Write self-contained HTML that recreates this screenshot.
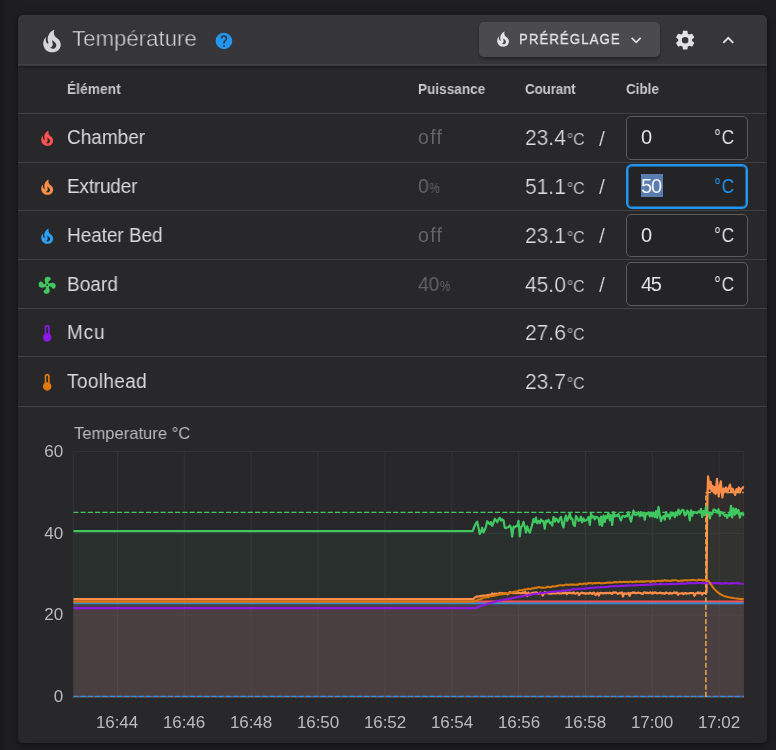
<!DOCTYPE html>
<html><head><meta charset="utf-8"><title>Temperature</title>
<style>
html,body{margin:0;padding:0;}
body{width:776px;height:750px;overflow:hidden;position:relative;background:#1e1e20;font-family:"Liberation Sans",sans-serif;}
.edgeL{position:absolute;left:0;top:0;width:5px;height:750px;background:linear-gradient(90deg,#18181a,#1e1e20);}
.card{position:absolute;left:18px;top:15px;width:749px;height:728px;background:#28282b;border-radius:5px;box-shadow:0 2px 4px rgba(0,0,0,0.3),0 0 8px 1px rgba(0,0,0,0.13);}
.hdr{position:absolute;left:18px;top:15px;width:749px;height:49px;background:#35353a;border-radius:5px 5px 0 0;border-bottom:1px solid #434347;box-shadow:0 1px 0 #37373a,0 3px 3px rgba(0,0,0,0.25);}
.t{position:absolute;white-space:nowrap;will-change:transform;}
.ic{position:absolute;display:block;}
.sep{position:absolute;left:18px;width:749px;height:1px;background:#404043;}
.btn{position:absolute;left:478.6px;top:22.1px;width:181.4px;height:34.5px;background:#4b4b4f;border-radius:5px;box-shadow:0 2px 3px rgba(0,0,0,0.3);}
.inp{position:absolute;left:626.2px;width:121.6px;height:43.6px;box-sizing:border-box;border:1.1px solid #5c5c5f;border-radius:5px;background:#242426;}
.inp.foc{border:2px solid #2196f3;left:626.3px;height:44.6px;border-radius:6px;box-shadow:inset 0 0 0 1px rgba(33,150,243,0.5);}
.sel{position:absolute;left:641.0px;width:22.1px;height:23.2px;background:#5a7db0;}
.deg{font-size:16.5px;letter-spacing:0px;margin-left:1px;}
.chart{position:absolute;left:0;top:0;}
.thin2{-webkit-text-stroke:0.45px #35353a;}
.thin{-webkit-text-stroke:0.22px #28282b;}
.fat{-webkit-text-stroke:0.3px #e6e6e6;}
</style></head><body>
<div class="edgeL"></div>
<div class="card"></div>
<div class="hdr"></div>
<svg class="chart" width="776" height="750" viewBox="0 0 776 750">
<defs><clipPath id="cp"><rect x="73.3" y="450.5" width="671.0" height="246.5"/></clipPath></defs>
<line x1="73.3" x2="743.7" y1="696.9" y2="696.9" stroke="#343437" stroke-width="1"/>
<line x1="73.3" x2="743.7" y1="615.1" y2="615.1" stroke="#343437" stroke-width="1"/>
<line x1="73.3" x2="743.7" y1="533.3" y2="533.3" stroke="#343437" stroke-width="1"/>
<line x1="73.3" x2="743.7" y1="451.5" y2="451.5" stroke="#343437" stroke-width="1"/>
<line x1="73.3" x2="73.3" y1="451.5" y2="696.9" stroke="#343437" stroke-width="1"/>
<line x1="117.5" x2="117.5" y1="451.5" y2="696.9" stroke="#343437" stroke-width="1"/>
<line x1="184.3" x2="184.3" y1="451.5" y2="696.9" stroke="#343437" stroke-width="1"/>
<line x1="251.2" x2="251.2" y1="451.5" y2="696.9" stroke="#343437" stroke-width="1"/>
<line x1="318.0" x2="318.0" y1="451.5" y2="696.9" stroke="#343437" stroke-width="1"/>
<line x1="384.9" x2="384.9" y1="451.5" y2="696.9" stroke="#343437" stroke-width="1"/>
<line x1="451.8" x2="451.8" y1="451.5" y2="696.9" stroke="#343437" stroke-width="1"/>
<line x1="518.6" x2="518.6" y1="451.5" y2="696.9" stroke="#343437" stroke-width="1"/>
<line x1="585.5" x2="585.5" y1="451.5" y2="696.9" stroke="#343437" stroke-width="1"/>
<line x1="652.3" x2="652.3" y1="451.5" y2="696.9" stroke="#343437" stroke-width="1"/>
<line x1="719.2" x2="719.2" y1="451.5" y2="696.9" stroke="#343437" stroke-width="1"/>
<line x1="743.7" x2="743.7" y1="451.5" y2="696.9" stroke="#343437" stroke-width="1"/>
<line x1="72.5" x2="743.7" y1="697.4" y2="697.4" stroke="#4c4c50" stroke-width="1"/>
<g clip-path="url(#cp)" fill="none" stroke-linejoin="round">
<path d="M73.3 531.1 L472.7 531.1 L473.5 529.0 L474.8 525.5 L476.0 523.4 L477.2 521.7 L478.5 527.8 L479.8 534.0 L481.0 532.0 L482.2 527.7 L483.5 532.5 L484.8 529.8 L486.0 526.6 L487.2 521.2 L488.5 522.7 L489.8 524.2 L491.0 522.1 L492.2 525.8 L493.5 522.7 L494.8 518.9 L496.0 520.2 L497.2 522.3 L498.5 519.4 L499.8 517.8 L501.0 520.7 L502.2 519.3 L503.5 520.3 L504.8 527.8 L506.0 528.2 L507.2 527.4 L508.5 527.1 L509.8 525.5 L511.0 527.8 L512.2 536.7 L513.5 526.7 L514.8 527.3 L516.0 526.0 L517.2 526.2 L518.5 520.9 L519.8 536.4 L521.0 526.7 L522.2 526.3 L523.5 521.9 L524.8 527.0 L526.0 532.5 L527.2 526.3 L528.5 530.5 L529.8 532.7 L531.0 528.7 L532.2 524.9 L533.5 519.1 L534.8 522.0 L536.0 517.5 L537.2 523.2 L538.5 520.9 L539.8 523.2 L541.0 519.5 L542.2 521.2 L543.5 521.2 L544.8 528.7 L546.0 520.5 L547.2 521.8 L548.5 519.7 L549.8 523.1 L551.0 522.4 L552.2 525.7 L553.5 517.0 L554.8 521.6 L556.0 518.5 L557.2 520.1 L558.5 522.1 L559.8 518.5 L561.0 516.8 L562.2 523.8 L563.5 527.5 L564.8 519.3 L566.0 515.6 L567.2 520.8 L568.5 518.0 L569.8 513.6 L571.0 518.7 L572.2 518.6 L573.5 524.7 L574.8 526.1 L576.0 516.1 L577.2 518.0 L578.5 520.8 L579.8 520.4 L581.0 516.7 L582.2 522.5 L583.5 518.5 L584.8 520.8 L586.0 520.5 L587.2 519.7 L588.5 517.0 L589.8 524.9 L591.0 513.7 L592.2 517.4 L593.5 516.2 L594.8 519.3 L596.0 516.9 L597.2 517.0 L598.5 518.2 L599.8 524.8 L601.0 516.6 L602.2 525.8 L603.5 515.5 L604.8 522.0 L606.0 515.9 L607.2 518.0 L608.5 513.1 L609.8 520.3 L611.0 515.2 L612.2 525.0 L613.5 512.2 L614.8 516.5 L616.0 515.2 L617.2 516.1 L618.5 514.2 L619.8 517.7 L621.0 520.5 L622.2 516.5 L623.5 515.8 L624.8 516.9 L626.0 515.7 L627.2 516.3 L628.5 512.2 L629.8 517.4 L631.0 521.6 L632.2 515.9 L633.5 510.6 L634.8 514.6 L636.0 515.1 L637.2 514.3 L638.5 512.2 L639.8 516.4 L641.0 512.0 L642.2 515.7 L643.5 512.9 L644.8 519.7 L646.0 513.1 L647.2 514.0 L648.5 512.3 L649.8 516.4 L651.0 512.8 L652.2 516.4 L653.5 512.6 L654.8 517.1 L656.0 511.1 L657.2 517.9 L658.5 507.0 L659.8 515.3 L661.0 521.1 L662.2 517.6 L663.5 515.9 L664.8 519.7 L666.0 512.2 L667.2 516.3 L668.5 514.5 L669.8 518.8 L671.0 512.7 L672.2 515.5 L673.5 513.1 L674.8 517.2 L676.0 512.2 L677.2 515.4 L678.5 509.5 L679.8 514.3 L681.0 511.4 L682.2 509.8 L683.5 510.3 L684.8 515.4 L686.0 514.6 L687.2 510.6 L688.5 512.2 L689.8 520.3 L691.0 510.3 L692.2 515.6 L693.5 511.8 L694.8 512.7 L696.0 512.3 L697.2 513.2 L698.5 511.4 L699.8 512.5 L701.0 508.9 L702.2 517.0 L703.5 511.1 L704.8 515.1 L706.0 506.7 L707.2 513.2 L708.5 512.1 L709.8 518.4 L711.0 512.8 L712.2 514.1 L713.5 509.7 L714.8 509.7 L716.0 510.8 L717.2 512.7 L718.5 509.3 L719.8 515.9 L721.0 512.0 L722.2 512.7 L723.5 514.1 L724.8 515.9 L726.0 514.6 L727.2 517.8 L728.5 514.4 L729.8 515.8 L731.0 505.9 L732.2 517.5 L733.5 508.4 L734.8 514.7 L736.0 508.8 L737.2 513.4 L738.5 510.0 L739.8 517.6 L741.0 513.1 L742.2 513.7 L743.5 515.1 L743.7 512.9 L743.7 696.9 L73.3 696.9 Z" fill="#40c860" fill-opacity="0.05" stroke="none"/>
<path d="M73.3 601.6 L743.7 601.6 L743.7 696.9 L73.3 696.9 Z" fill="#a06d93" fill-opacity="0.2" stroke="none"/>
<path d="M73.3 599.1 L473.5 599.1 L474.5 597.7 L475.6 597.2 L476.7 596.4 L477.8 596.6 L478.9 596.3 L480.0 596.5 L481.1 595.8 L482.2 595.8 L483.3 595.5 L484.4 595.6 L485.5 595.7 L486.6 595.6 L487.7 595.1 L488.8 594.8 L489.9 595.1 L491.0 595.0 L492.1 593.4 L493.2 594.3 L494.3 593.7 L495.4 593.8 L496.5 593.6 L497.6 593.8 L498.7 593.7 L499.8 592.9 L500.9 594.2 L502.0 593.1 L503.1 593.6 L504.2 593.3 L505.3 593.3 L506.4 593.4 L507.5 594.3 L508.6 593.7 L509.7 592.0 L510.8 592.8 L511.9 592.5 L513.0 593.1 L514.1 593.0 L515.2 592.7 L516.3 593.2 L517.4 592.6 L518.5 593.0 L519.6 593.0 L520.7 593.1 L521.8 593.1 L522.9 592.3 L524.0 593.3 L525.1 591.9 L526.2 593.2 L527.3 596.0 L528.4 592.5 L529.5 595.1 L530.6 594.3 L531.7 592.9 L532.8 593.1 L533.9 592.6 L535.0 592.7 L536.1 592.3 L537.2 593.0 L538.3 593.8 L539.4 593.7 L540.5 592.4 L541.6 593.1 L542.7 595.6 L543.8 593.7 L544.9 591.9 L546.0 593.1 L547.1 592.9 L548.2 593.2 L549.3 593.6 L550.4 593.6 L551.5 593.6 L552.6 593.2 L553.7 593.3 L554.8 593.5 L555.9 593.3 L557.0 593.1 L558.1 592.7 L559.2 593.5 L560.3 593.3 L561.4 593.5 L562.5 593.1 L563.6 592.9 L564.7 593.1 L565.8 592.5 L566.9 594.0 L568.0 592.9 L569.1 592.9 L570.2 592.7 L571.3 593.3 L572.4 593.2 L573.5 592.3 L574.6 593.7 L575.7 593.5 L576.8 592.9 L577.9 592.9 L579.0 595.1 L580.1 593.4 L581.2 592.9 L582.3 592.7 L583.4 593.3 L584.5 593.2 L585.6 593.8 L586.7 593.3 L587.8 593.3 L588.9 593.6 L590.0 592.7 L591.1 593.2 L592.2 594.0 L593.3 592.6 L594.4 592.9 L595.5 595.1 L596.6 593.9 L597.7 592.7 L598.8 595.5 L599.9 593.1 L601.0 592.9 L602.1 593.2 L603.2 593.4 L604.3 593.1 L605.4 592.9 L606.5 593.2 L607.6 592.8 L608.7 593.2 L609.8 592.6 L610.9 593.2 L612.0 593.9 L613.1 592.4 L614.2 592.7 L615.3 592.4 L616.4 592.6 L617.5 593.9 L618.6 593.6 L619.7 592.8 L620.8 593.1 L621.9 592.3 L623.0 596.5 L624.1 593.4 L625.2 593.6 L626.3 593.5 L627.4 593.7 L628.5 592.8 L629.6 595.9 L630.7 593.0 L631.8 593.1 L632.9 592.3 L634.0 592.9 L635.1 592.6 L636.2 593.3 L637.3 593.0 L638.4 592.5 L639.5 593.0 L640.6 593.0 L641.7 593.7 L642.8 594.0 L643.9 592.3 L645.0 592.3 L646.1 593.2 L647.2 592.6 L648.3 593.2 L649.4 592.7 L650.5 592.4 L651.6 593.6 L652.7 592.5 L653.8 593.3 L654.9 592.3 L656.0 592.9 L657.1 593.3 L658.2 593.2 L659.3 593.0 L660.4 592.5 L661.5 593.4 L662.6 593.1 L663.7 593.4 L664.8 593.8 L665.9 592.4 L667.0 593.0 L668.1 593.3 L669.2 593.8 L670.3 592.6 L671.4 593.6 L672.5 593.4 L673.6 592.8 L674.7 592.4 L675.8 593.2 L676.9 592.5 L678.0 594.7 L679.1 593.5 L680.2 593.5 L681.3 593.5 L682.4 592.9 L683.5 594.1 L684.6 593.3 L685.7 593.0 L686.8 593.7 L687.9 593.5 L689.0 593.4 L690.1 593.1 L691.2 593.0 L692.3 593.0 L693.4 593.1 L694.5 595.9 L695.6 593.6 L696.7 593.3 L697.8 592.4 L698.9 593.5 L700.0 592.6 L701.1 593.0 L702.2 594.5 L703.3 592.9 L704.4 593.0 L706.5 592.6 L707.1 516.9 L707.6 490.4 L708.1 476.4 L709.6 488.7 L710.6 481.8 L711.6 490.8 L712.6 485.9 L713.6 492.4 L714.6 487.1 L715.6 494.0 L717.0 478.9 L718.0 490.4 L718.8 496.5 L719.8 486.3 L720.8 481.4 L721.6 491.2 L722.4 497.3 L723.6 488.3 L724.8 491.6 L726.1 487.5 L727.4 492.4 L728.6 488.3 L730.0 484.6 L731.2 491.2 L732.6 488.7 L733.8 492.0 L735.2 494.9 L736.4 489.1 L737.6 491.2 L738.8 487.5 L740.0 492.4 L741.2 488.7 L742.4 488.3 L743.7 486.3 L743.7 696.9 L73.3 696.9 Z" fill="#ff8e4b" fill-opacity="0.05" stroke="none"/>
<path d="M73.3 512.4 H743.7" stroke="#40c860" stroke-width="1.4" stroke-dasharray="5.1 2.17"/>
<path d="M73.3 696.5 H743.7" stroke="#ff5252" stroke-opacity="0.4" stroke-width="1.4" stroke-dasharray="5.1 2.17" stroke-dashoffset="3.6"/>
<path d="M73.3 696.5 H743.7" stroke="#2196f3" stroke-width="1.5" stroke-dasharray="5.1 2.17"/>
<path d="M73.3 601.7 L743.7 601.7" stroke="#ff5252" stroke-width="2.2"/>
<path d="M705.9 492.4 H743.7" stroke="#e8ac4c" stroke-width="1.5" stroke-dasharray="5.1 2.17"/>
<path d="M73.3 599.1 L473.5 599.1 L474.5 597.7 L475.6 597.2 L476.7 596.4 L477.8 596.6 L478.9 596.3 L480.0 596.5 L481.1 595.8 L482.2 595.8 L483.3 595.5 L484.4 595.6 L485.5 595.7 L486.6 595.6 L487.7 595.1 L488.8 594.8 L489.9 595.1 L491.0 595.0 L492.1 593.4 L493.2 594.3 L494.3 593.7 L495.4 593.8 L496.5 593.6 L497.6 593.8 L498.7 593.7 L499.8 592.9 L500.9 594.2 L502.0 593.1 L503.1 593.6 L504.2 593.3 L505.3 593.3 L506.4 593.4 L507.5 594.3 L508.6 593.7 L509.7 592.0 L510.8 592.8 L511.9 592.5 L513.0 593.1 L514.1 593.0 L515.2 592.7 L516.3 593.2 L517.4 592.6 L518.5 593.0 L519.6 593.0 L520.7 593.1 L521.8 593.1 L522.9 592.3 L524.0 593.3 L525.1 591.9 L526.2 593.2 L527.3 596.0 L528.4 592.5 L529.5 595.1 L530.6 594.3 L531.7 592.9 L532.8 593.1 L533.9 592.6 L535.0 592.7 L536.1 592.3 L537.2 593.0 L538.3 593.8 L539.4 593.7 L540.5 592.4 L541.6 593.1 L542.7 595.6 L543.8 593.7 L544.9 591.9 L546.0 593.1 L547.1 592.9 L548.2 593.2 L549.3 593.6 L550.4 593.6 L551.5 593.6 L552.6 593.2 L553.7 593.3 L554.8 593.5 L555.9 593.3 L557.0 593.1 L558.1 592.7 L559.2 593.5 L560.3 593.3 L561.4 593.5 L562.5 593.1 L563.6 592.9 L564.7 593.1 L565.8 592.5 L566.9 594.0 L568.0 592.9 L569.1 592.9 L570.2 592.7 L571.3 593.3 L572.4 593.2 L573.5 592.3 L574.6 593.7 L575.7 593.5 L576.8 592.9 L577.9 592.9 L579.0 595.1 L580.1 593.4 L581.2 592.9 L582.3 592.7 L583.4 593.3 L584.5 593.2 L585.6 593.8 L586.7 593.3 L587.8 593.3 L588.9 593.6 L590.0 592.7 L591.1 593.2 L592.2 594.0 L593.3 592.6 L594.4 592.9 L595.5 595.1 L596.6 593.9 L597.7 592.7 L598.8 595.5 L599.9 593.1 L601.0 592.9 L602.1 593.2 L603.2 593.4 L604.3 593.1 L605.4 592.9 L606.5 593.2 L607.6 592.8 L608.7 593.2 L609.8 592.6 L610.9 593.2 L612.0 593.9 L613.1 592.4 L614.2 592.7 L615.3 592.4 L616.4 592.6 L617.5 593.9 L618.6 593.6 L619.7 592.8 L620.8 593.1 L621.9 592.3 L623.0 596.5 L624.1 593.4 L625.2 593.6 L626.3 593.5 L627.4 593.7 L628.5 592.8 L629.6 595.9 L630.7 593.0 L631.8 593.1 L632.9 592.3 L634.0 592.9 L635.1 592.6 L636.2 593.3 L637.3 593.0 L638.4 592.5 L639.5 593.0 L640.6 593.0 L641.7 593.7 L642.8 594.0 L643.9 592.3 L645.0 592.3 L646.1 593.2 L647.2 592.6 L648.3 593.2 L649.4 592.7 L650.5 592.4 L651.6 593.6 L652.7 592.5 L653.8 593.3 L654.9 592.3 L656.0 592.9 L657.1 593.3 L658.2 593.2 L659.3 593.0 L660.4 592.5 L661.5 593.4 L662.6 593.1 L663.7 593.4 L664.8 593.8 L665.9 592.4 L667.0 593.0 L668.1 593.3 L669.2 593.8 L670.3 592.6 L671.4 593.6 L672.5 593.4 L673.6 592.8 L674.7 592.4 L675.8 593.2 L676.9 592.5 L678.0 594.7 L679.1 593.5 L680.2 593.5 L681.3 593.5 L682.4 592.9 L683.5 594.1 L684.6 593.3 L685.7 593.0 L686.8 593.7 L687.9 593.5 L689.0 593.4 L690.1 593.1 L691.2 593.0 L692.3 593.0 L693.4 593.1 L694.5 595.9 L695.6 593.6 L696.7 593.3 L697.8 592.4 L698.9 593.5 L700.0 592.6 L701.1 593.0 L702.2 594.5 L703.3 592.9 L704.4 593.0 L706.5 592.6 L707.1 516.9 L707.6 490.4 L708.1 476.4 L709.6 488.7 L710.6 481.8 L711.6 490.8 L712.6 485.9 L713.6 492.4 L714.6 487.1 L715.6 494.0 L717.0 478.9 L718.0 490.4 L718.8 496.5 L719.8 486.3 L720.8 481.4 L721.6 491.2 L722.4 497.3 L723.6 488.3 L724.8 491.6 L726.1 487.5 L727.4 492.4 L728.6 488.3 L730.0 484.6 L731.2 491.2 L732.6 488.7 L733.8 492.0 L735.2 494.9 L736.4 489.1 L737.6 491.2 L738.8 487.5 L740.0 492.4 L741.2 488.7 L742.4 488.3 L743.7 486.3" stroke="#ff8e4b" stroke-width="2.2"/>
<path d="M705.9 696.9 V492.4" stroke="#e8ac4c" stroke-width="1.5" stroke-dasharray="5.1 2.17"/>
<path d="M73.3 603.4 L743.7 603.4" stroke="#2f8fd6" stroke-width="1.7"/>
<path d="M73.3 531.1 L472.7 531.1 L473.5 529.0 L474.8 525.5 L476.0 523.4 L477.2 521.7 L478.5 527.8 L479.8 534.0 L481.0 532.0 L482.2 527.7 L483.5 532.5 L484.8 529.8 L486.0 526.6 L487.2 521.2 L488.5 522.7 L489.8 524.2 L491.0 522.1 L492.2 525.8 L493.5 522.7 L494.8 518.9 L496.0 520.2 L497.2 522.3 L498.5 519.4 L499.8 517.8 L501.0 520.7 L502.2 519.3 L503.5 520.3 L504.8 527.8 L506.0 528.2 L507.2 527.4 L508.5 527.1 L509.8 525.5 L511.0 527.8 L512.2 536.7 L513.5 526.7 L514.8 527.3 L516.0 526.0 L517.2 526.2 L518.5 520.9 L519.8 536.4 L521.0 526.7 L522.2 526.3 L523.5 521.9 L524.8 527.0 L526.0 532.5 L527.2 526.3 L528.5 530.5 L529.8 532.7 L531.0 528.7 L532.2 524.9 L533.5 519.1 L534.8 522.0 L536.0 517.5 L537.2 523.2 L538.5 520.9 L539.8 523.2 L541.0 519.5 L542.2 521.2 L543.5 521.2 L544.8 528.7 L546.0 520.5 L547.2 521.8 L548.5 519.7 L549.8 523.1 L551.0 522.4 L552.2 525.7 L553.5 517.0 L554.8 521.6 L556.0 518.5 L557.2 520.1 L558.5 522.1 L559.8 518.5 L561.0 516.8 L562.2 523.8 L563.5 527.5 L564.8 519.3 L566.0 515.6 L567.2 520.8 L568.5 518.0 L569.8 513.6 L571.0 518.7 L572.2 518.6 L573.5 524.7 L574.8 526.1 L576.0 516.1 L577.2 518.0 L578.5 520.8 L579.8 520.4 L581.0 516.7 L582.2 522.5 L583.5 518.5 L584.8 520.8 L586.0 520.5 L587.2 519.7 L588.5 517.0 L589.8 524.9 L591.0 513.7 L592.2 517.4 L593.5 516.2 L594.8 519.3 L596.0 516.9 L597.2 517.0 L598.5 518.2 L599.8 524.8 L601.0 516.6 L602.2 525.8 L603.5 515.5 L604.8 522.0 L606.0 515.9 L607.2 518.0 L608.5 513.1 L609.8 520.3 L611.0 515.2 L612.2 525.0 L613.5 512.2 L614.8 516.5 L616.0 515.2 L617.2 516.1 L618.5 514.2 L619.8 517.7 L621.0 520.5 L622.2 516.5 L623.5 515.8 L624.8 516.9 L626.0 515.7 L627.2 516.3 L628.5 512.2 L629.8 517.4 L631.0 521.6 L632.2 515.9 L633.5 510.6 L634.8 514.6 L636.0 515.1 L637.2 514.3 L638.5 512.2 L639.8 516.4 L641.0 512.0 L642.2 515.7 L643.5 512.9 L644.8 519.7 L646.0 513.1 L647.2 514.0 L648.5 512.3 L649.8 516.4 L651.0 512.8 L652.2 516.4 L653.5 512.6 L654.8 517.1 L656.0 511.1 L657.2 517.9 L658.5 507.0 L659.8 515.3 L661.0 521.1 L662.2 517.6 L663.5 515.9 L664.8 519.7 L666.0 512.2 L667.2 516.3 L668.5 514.5 L669.8 518.8 L671.0 512.7 L672.2 515.5 L673.5 513.1 L674.8 517.2 L676.0 512.2 L677.2 515.4 L678.5 509.5 L679.8 514.3 L681.0 511.4 L682.2 509.8 L683.5 510.3 L684.8 515.4 L686.0 514.6 L687.2 510.6 L688.5 512.2 L689.8 520.3 L691.0 510.3 L692.2 515.6 L693.5 511.8 L694.8 512.7 L696.0 512.3 L697.2 513.2 L698.5 511.4 L699.8 512.5 L701.0 508.9 L702.2 517.0 L703.5 511.1 L704.8 515.1 L706.0 506.7 L707.2 513.2 L708.5 512.1 L709.8 518.4 L711.0 512.8 L712.2 514.1 L713.5 509.7 L714.8 509.7 L716.0 510.8 L717.2 512.7 L718.5 509.3 L719.8 515.9 L721.0 512.0 L722.2 512.7 L723.5 514.1 L724.8 515.9 L726.0 514.6 L727.2 517.8 L728.5 514.4 L729.8 515.8 L731.0 505.9 L732.2 517.5 L733.5 508.4 L734.8 514.7 L736.0 508.8 L737.2 513.4 L738.5 510.0 L739.8 517.6 L741.0 513.1 L742.2 513.7 L743.5 515.1 L743.7 512.9" stroke="#40c860" stroke-width="2.2"/>
<path d="M73.3 608.1 L473.5 608.1 L474.5 608.5 L476.5 607.7 L478.5 606.8 L480.5 606.0 L482.5 605.2 L484.5 604.9 L486.5 604.4 L488.5 603.5 L490.5 602.9 L492.5 602.4 L494.5 601.9 L496.5 601.2 L498.5 600.8 L500.5 600.4 L502.5 600.1 L504.5 599.6 L506.5 599.2 L508.5 598.9 L510.5 598.7 L512.5 598.0 L514.5 597.6 L516.5 597.3 L518.5 596.8 L520.5 596.6 L522.5 596.1 L524.5 595.8 L526.5 595.4 L528.5 594.9 L530.5 594.8 L532.5 594.2 L534.5 593.9 L536.5 593.7 L538.5 593.5 L540.5 593.1 L542.5 593.1 L544.5 592.8 L546.5 592.6 L548.5 592.2 L550.5 591.9 L552.5 591.8 L554.5 591.6 L556.5 591.5 L558.5 591.2 L560.5 591.2 L562.5 590.6 L564.5 590.5 L566.5 590.4 L568.5 590.0 L570.5 589.8 L572.5 589.4 L574.5 589.2 L576.5 589.3 L578.5 588.9 L580.5 588.7 L582.5 588.7 L584.5 588.6 L586.5 588.3 L588.5 588.2 L590.5 587.9 L592.5 587.8 L594.5 587.8 L596.5 587.4 L598.5 587.5 L600.5 587.0 L602.5 587.2 L604.5 587.0 L606.5 586.9 L608.5 586.7 L610.5 586.3 L612.5 586.3 L614.5 586.2 L616.5 586.1 L618.5 586.2 L620.5 585.9 L622.5 585.9 L624.5 585.8 L626.5 585.6 L628.5 585.6 L630.5 585.5 L632.5 585.5 L634.5 585.5 L636.5 585.1 L638.5 585.0 L640.5 585.0 L642.5 585.1 L644.5 585.2 L646.5 584.8 L648.5 584.6 L650.5 584.6 L652.5 584.4 L654.5 584.3 L656.5 584.2 L658.5 584.3 L660.5 584.1 L662.5 584.1 L664.5 584.3 L666.5 584.1 L668.5 584.2 L670.5 583.9 L672.5 583.8 L674.5 584.0 L676.5 584.0 L678.5 583.6 L680.5 583.6 L682.5 583.4 L684.5 583.7 L686.5 583.4 L688.5 583.2 L690.5 583.1 L692.5 583.3 L694.5 583.2 L696.5 583.2 L698.5 583.0 L700.5 583.0 L702.5 583.1 L704.5 583.2 L706.5 582.9 L706.6 583.0 L708.6 583.6 L711.1 583.4 L713.6 583.5 L716.1 583.1 L718.6 583.2 L721.1 583.6 L723.6 583.4 L726.1 583.1 L728.6 583.7 L731.1 583.4 L733.6 583.2 L736.1 583.2 L738.6 583.4 L741.1 583.8 L743.6 583.8 L743.7 583.6" stroke="#9118e4" stroke-width="2.1"/>
<path d="M73.3 601.6 L473.5 601.6 L474.5 600.9 L475.9 601.0 L477.3 600.1 L478.7 599.6 L480.1 599.3 L481.5 598.8 L482.9 598.0 L484.3 597.3 L485.7 597.4 L487.1 597.1 L488.5 597.3 L489.9 596.0 L491.3 596.2 L492.7 595.9 L494.1 595.9 L495.5 595.3 L496.9 595.3 L498.3 594.7 L499.7 594.4 L501.1 594.3 L502.5 594.0 L503.9 594.1 L505.3 593.2 L506.7 593.5 L508.1 593.6 L509.5 592.9 L510.9 592.7 L512.3 592.5 L513.7 592.0 L515.1 591.5 L516.5 591.6 L517.9 591.0 L519.3 590.3 L520.7 590.2 L522.1 590.1 L523.5 589.8 L524.9 589.6 L526.3 589.4 L527.7 588.9 L529.1 588.9 L530.5 589.3 L531.9 588.4 L533.3 588.4 L534.7 587.7 L536.1 587.9 L537.5 587.6 L538.9 586.9 L540.3 587.7 L541.7 587.6 L543.1 587.6 L544.5 587.8 L545.9 587.5 L547.3 586.8 L548.7 586.9 L550.1 587.2 L551.5 586.9 L552.9 586.2 L554.3 586.5 L555.7 586.2 L557.1 585.9 L558.5 585.5 L559.9 585.2 L561.3 585.3 L562.7 585.4 L564.1 585.2 L565.5 584.6 L566.9 584.6 L568.3 585.0 L569.7 584.6 L571.1 584.6 L572.5 584.5 L573.9 584.6 L575.3 584.8 L576.7 584.5 L578.1 584.7 L579.5 583.8 L580.9 583.9 L582.3 584.3 L583.7 583.5 L585.1 583.5 L586.5 584.3 L587.9 583.1 L589.3 583.3 L590.7 582.9 L592.1 583.7 L593.5 583.1 L594.9 583.1 L596.3 583.1 L597.7 583.0 L599.1 582.7 L600.5 583.4 L601.9 583.3 L603.3 583.3 L604.7 583.0 L606.1 582.9 L607.5 582.6 L608.9 582.6 L610.3 582.6 L611.7 582.7 L613.1 582.6 L614.5 582.1 L615.9 582.1 L617.3 582.3 L618.7 582.3 L620.1 581.7 L621.5 582.3 L622.9 581.9 L624.3 581.7 L625.7 582.1 L627.1 581.7 L628.5 582.2 L629.9 581.6 L631.3 581.8 L632.7 582.2 L634.1 581.6 L635.5 582.0 L636.9 581.3 L638.3 581.8 L639.7 581.6 L641.1 581.4 L642.5 581.6 L643.9 581.4 L645.3 581.6 L646.7 581.2 L648.1 581.3 L649.5 581.2 L650.9 582.0 L652.3 580.9 L653.7 581.1 L655.1 581.6 L656.5 581.0 L657.9 580.9 L659.3 580.7 L660.7 581.2 L662.1 580.5 L663.5 580.9 L664.9 580.1 L666.3 580.8 L667.7 580.6 L669.1 580.8 L670.5 581.0 L671.9 580.4 L673.3 580.4 L674.7 580.2 L676.1 580.3 L677.5 580.7 L678.9 581.0 L680.3 580.7 L681.7 580.6 L683.1 580.6 L684.5 580.2 L685.9 580.2 L687.3 580.4 L688.7 580.2 L690.1 580.3 L691.5 580.1 L692.9 580.0 L694.3 579.9 L695.7 580.3 L697.1 580.5 L698.5 579.6 L699.9 580.0 L701.3 579.7 L702.7 580.4 L704.1 580.1 L705.5 579.9 L706.6 580.1 L708.6 581.2 L710.6 584.0 L713.6 588.1 L716.6 591.4 L719.6 593.8 L723.6 595.9 L728.6 597.3 L734.6 598.3 L739.6 598.9 L743.7 599.1" stroke="#d9780f" stroke-width="2.1"/>
</g>
</svg>
<svg class="ic" style="left:37.30px;top:25.65px" width="30.00" height="30.00" viewBox="0 0 24 24"><path fill="#d6d6d6" d="M17.66 11.2C17.43 10.9 17.15 10.64 16.89 10.38C16.22 9.78 15.46 9.35 14.82 8.72C13.33 7.26 13 4.85 13.95 3C13 3.23 12.17 3.75 11.46 4.32C8.87 6.4 7.85 10.07 9.07 13.22C9.11 13.32 9.15 13.42 9.15 13.55C9.15 13.77 9 13.97 8.8 14.05C8.57 14.15 8.33 14.09 8.14 13.93C8.08 13.88 8.04 13.83 8 13.76C6.87 12.33 6.69 10.28 7.45 8.64C5.78 10 4.87 12.3 5 14.47C5.06 14.97 5.12 15.47 5.29 15.97C5.43 16.57 5.7 17.17 6 17.7C7.08 19.43 8.95 20.67 10.96 20.92C13.1 21.19 15.39 20.8 17.03 19.32C18.86 17.66 19.5 15 18.56 12.72L18.43 12.46C18.22 12 17.66 11.2 17.66 11.2M14.5 17.5C14.22 17.74 13.76 18 13.4 18.1C12.28 18.5 11.16 17.94 10.5 17.28C11.69 17 12.4 16.12 12.61 15.23C12.78 14.43 12.46 13.77 12.33 13C12.21 12.26 12.23 11.63 12.5 10.94C12.69 11.32 12.89 11.7 13.13 12C13.9 13 15.11 13.44 15.37 14.8C15.41 14.94 15.43 15.08 15.43 15.23C15.46 16.05 15.1 16.95 14.5 17.5H14.5Z"/></svg>
<div class="t m_title thin2" style="left:72.40px;top:28.35px;font-size:22.50px;line-height:22.50px;color:#dcdcde;letter-spacing:0.000px;font-weight:400;transform:scaleX(0.988);transform-origin:0 0;">Température</div>
<svg class="ic" style="left:213.95px;top:31.35px" width="19.90" height="19.90" viewBox="0 0 24 24"><path fill="#2196f3" d="M15.07,11.25L14.17,12.17C13.45,12.89 13,13.5 13,15H11V14.5C11,13.39 11.45,12.39 12.17,11.67L13.41,10.41C13.78,10.05 14,9.55 14,9C14,7.89 13.1,7 12,7A2,2 0 0,0 10,9H8A4,4 0 0,1 12,5A4,4 0 0,1 16,9C16,9.88 15.64,10.67 15.07,11.25M13,19H11V17H13M12,2A10,10 0 0,0 2,12A10,10 0 0,0 12,22A10,10 0 0,0 22,12C22,6.47 17.5,2 12,2Z"/></svg>
<div class="btn"></div>
<svg class="ic" style="left:493.10px;top:29.45px" width="20.20" height="20.20" viewBox="0 0 24 24"><path fill="#e4e4e4" d="M17.66 11.2C17.43 10.9 17.15 10.64 16.89 10.38C16.22 9.78 15.46 9.35 14.82 8.72C13.33 7.26 13 4.85 13.95 3C13 3.23 12.17 3.75 11.46 4.32C8.87 6.4 7.85 10.07 9.07 13.22C9.11 13.32 9.15 13.42 9.15 13.55C9.15 13.77 9 13.97 8.8 14.05C8.57 14.15 8.33 14.09 8.14 13.93C8.08 13.88 8.04 13.83 8 13.76C6.87 12.33 6.69 10.28 7.45 8.64C5.78 10 4.87 12.3 5 14.47C5.06 14.97 5.12 15.47 5.29 15.97C5.43 16.57 5.7 17.17 6 17.7C7.08 19.43 8.95 20.67 10.96 20.92C13.1 21.19 15.39 20.8 17.03 19.32C18.86 17.66 19.5 15 18.56 12.72L18.43 12.46C18.22 12 17.66 11.2 17.66 11.2M14.5 17.5C14.22 17.74 13.76 18 13.4 18.1C12.28 18.5 11.16 17.94 10.5 17.28C11.69 17 12.4 16.12 12.61 15.23C12.78 14.43 12.46 13.77 12.33 13C12.21 12.26 12.23 11.63 12.5 10.94C12.69 11.32 12.89 11.7 13.13 12C13.9 13 15.11 13.44 15.37 14.8C15.41 14.94 15.43 15.08 15.43 15.23C15.46 16.05 15.1 16.95 14.5 17.5H14.5Z"/></svg>
<div class="t m_btn fat" style="left:518.90px;top:32.44px;font-size:14.60px;line-height:14.60px;color:#e6e6e6;letter-spacing:1.250px;font-weight:400;transform:scaleX(0.900);transform-origin:0 0;">PRÉRÉGLAGE</div>
<svg class="ic" style="left:626.25px;top:29.90px" width="20.30" height="20.30" viewBox="0 0 24 24"><path fill="#e0e0e0" d="M7.41,8.58L12,13.17L16.59,8.58L18,10L12,16L6,10L7.41,8.58Z"/></svg>
<svg class="ic" style="left:673.75px;top:28.70px" width="22.30" height="22.30" viewBox="0 0 24 24"><path fill="#e2e2e2" d="M12,15.5A3.5,3.5 0 0,1 8.5,12A3.5,3.5 0 0,1 12,8.5A3.5,3.5 0 0,1 15.5,12A3.5,3.5 0 0,1 12,15.5M19.43,12.97C19.47,12.65 19.5,12.33 19.5,12C19.5,11.67 19.47,11.34 19.43,11L21.54,9.37C21.73,9.22 21.78,8.95 21.66,8.73L19.66,5.27C19.54,5.05 19.27,4.96 19.05,5.05L16.56,6.05C16.04,5.66 15.5,5.32 14.87,5.07L14.5,2.42C14.46,2.18 14.25,2 14,2H10C9.75,2 9.54,2.18 9.5,2.42L9.13,5.07C8.5,5.32 7.96,5.66 7.44,6.05L4.95,5.05C4.73,4.96 4.46,5.05 4.34,5.27L2.34,8.73C2.21,8.95 2.27,9.22 2.46,9.37L4.57,11C4.53,11.34 4.5,11.67 4.5,12C4.5,12.33 4.53,12.65 4.57,12.97L2.46,14.63C2.27,14.78 2.21,15.05 2.34,15.27L4.34,18.73C4.46,18.95 4.73,19.03 4.95,18.95L7.44,17.94C7.96,18.34 8.5,18.68 9.13,18.93L9.5,21.58C9.54,21.82 9.75,22 10,22H14C14.25,22 14.46,21.82 14.5,21.58L14.87,18.93C15.5,18.67 16.04,18.34 16.56,17.94L19.05,18.95C19.27,19.03 19.54,18.95 19.66,18.73L21.66,15.27C21.78,15.05 21.73,14.78 21.54,14.63L19.43,12.97Z"/></svg>
<svg class="ic" style="left:717.35px;top:28.85px" width="22.50" height="22.50" viewBox="0 0 24 24"><path fill="#e2e2e2" d="M7.41,15.41L12,10.83L16.59,15.41L18,14L12,8L6,14L7.41,15.41Z"/></svg>
<div class="t m_h1" style="left:67.20px;top:82.15px;font-size:14.00px;line-height:14.00px;color:#c8c8ca;letter-spacing:0.250px;font-weight:700;transform:scaleX(0.960);transform-origin:0 0;">Élément</div>
<div class="t m_h2" style="left:418.00px;top:82.15px;font-size:14.00px;line-height:14.00px;color:#c8c8ca;letter-spacing:0.090px;font-weight:700;transform:scaleX(0.960);transform-origin:0 0;">Puissance</div>
<div class="t m_h3" style="left:524.60px;top:82.15px;font-size:14.00px;line-height:14.00px;color:#c8c8ca;letter-spacing:-0.150px;font-weight:700;transform:scaleX(0.960);transform-origin:0 0;">Courant</div>
<div class="t m_h4" style="left:626.30px;top:82.15px;font-size:14.00px;line-height:14.00px;color:#c8c8ca;letter-spacing:0.000px;font-weight:700;transform:scaleX(0.960);transform-origin:0 0;">Cible</div>
<div class="sep" style="top:113px"></div>
<svg class="ic" style="left:37.30px;top:128.45px" width="20.40" height="20.40" viewBox="0 0 24 24"><path fill="#ff5252" d="M17.66 11.2C17.43 10.9 17.15 10.64 16.89 10.38C16.22 9.78 15.46 9.35 14.82 8.72C13.33 7.26 13 4.85 13.95 3C13 3.23 12.17 3.75 11.46 4.32C8.87 6.4 7.85 10.07 9.07 13.22C9.11 13.32 9.15 13.42 9.15 13.55C9.15 13.77 9 13.97 8.8 14.05C8.57 14.15 8.33 14.09 8.14 13.93C8.08 13.88 8.04 13.83 8 13.76C6.87 12.33 6.69 10.28 7.45 8.64C5.78 10 4.87 12.3 5 14.47C5.06 14.97 5.12 15.47 5.29 15.97C5.43 16.57 5.7 17.17 6 17.7C7.08 19.43 8.95 20.67 10.96 20.92C13.1 21.19 15.39 20.8 17.03 19.32C18.86 17.66 19.5 15 18.56 12.72L18.43 12.46C18.22 12 17.66 11.2 17.66 11.2M14.5 17.5C14.22 17.74 13.76 18 13.4 18.1C12.28 18.5 11.16 17.94 10.5 17.28C11.69 17 12.4 16.12 12.61 15.23C12.78 14.43 12.46 13.77 12.33 13C12.21 12.26 12.23 11.63 12.5 10.94C12.69 11.32 12.89 11.7 13.13 12C13.9 13 15.11 13.44 15.37 14.8C15.41 14.94 15.43 15.08 15.43 15.23C15.46 16.05 15.1 16.95 14.5 17.5H14.5Z"/></svg>
<div class="t m_n0" style="left:67.40px;top:127.27px;font-size:20.00px;line-height:20.00px;color:#dadadc;letter-spacing:0.000px;font-weight:400;transform:scaleX(0.950);transform-origin:0 0;">Chamber</div>
<div class="t m_p0" style="left:417.90px;top:128.39px;font-size:19.50px;line-height:19.50px;color:#646467;letter-spacing:1.300px;font-weight:400;">off</div>
<div class="t thin m_c0" style="left:524.60px;top:127.43px;font-size:21.70px;line-height:21.70px;color:#dcdcde;letter-spacing:0.000px;font-weight:400;transform:scaleX(0.968);transform-origin:0 0;">23.4<span class="deg">°C</span></div>
<div class="t thin" style="left:598.90px;top:127.72px;font-size:21.00px;line-height:21.00px;color:#dcdcde;letter-spacing:0.000px;font-weight:400;">/</div>
<div class="inp" style="top:116.20px"></div>
<div class="t m_t0" style="left:641.00px;top:127.27px;font-size:20.00px;line-height:20.00px;color:#e2e2e2;letter-spacing:-1.300px;font-weight:400;">0</div>
<div class="t m_u0" style="left:713.60px;top:127.27px;font-size:20.00px;line-height:20.00px;color:#e2e2e2;letter-spacing:0.800px;font-weight:400;transform:scaleX(0.870);transform-origin:0 0;">°C</div>
<div class="sep" style="top:162px"></div>
<svg class="ic" style="left:37.30px;top:177.20px" width="20.40" height="20.40" viewBox="0 0 24 24"><path fill="#ff8e4b" d="M17.66 11.2C17.43 10.9 17.15 10.64 16.89 10.38C16.22 9.78 15.46 9.35 14.82 8.72C13.33 7.26 13 4.85 13.95 3C13 3.23 12.17 3.75 11.46 4.32C8.87 6.4 7.85 10.07 9.07 13.22C9.11 13.32 9.15 13.42 9.15 13.55C9.15 13.77 9 13.97 8.8 14.05C8.57 14.15 8.33 14.09 8.14 13.93C8.08 13.88 8.04 13.83 8 13.76C6.87 12.33 6.69 10.28 7.45 8.64C5.78 10 4.87 12.3 5 14.47C5.06 14.97 5.12 15.47 5.29 15.97C5.43 16.57 5.7 17.17 6 17.7C7.08 19.43 8.95 20.67 10.96 20.92C13.1 21.19 15.39 20.8 17.03 19.32C18.86 17.66 19.5 15 18.56 12.72L18.43 12.46C18.22 12 17.66 11.2 17.66 11.2M14.5 17.5C14.22 17.74 13.76 18 13.4 18.1C12.28 18.5 11.16 17.94 10.5 17.28C11.69 17 12.4 16.12 12.61 15.23C12.78 14.43 12.46 13.77 12.33 13C12.21 12.26 12.23 11.63 12.5 10.94C12.69 11.32 12.89 11.7 13.13 12C13.9 13 15.11 13.44 15.37 14.8C15.41 14.94 15.43 15.08 15.43 15.23C15.46 16.05 15.1 16.95 14.5 17.5H14.5Z"/></svg>
<div class="t m_n1" style="left:67.40px;top:176.02px;font-size:20.00px;line-height:20.00px;color:#dadadc;letter-spacing:-0.220px;font-weight:400;transform:scaleX(0.950);transform-origin:0 0;">Extruder</div>
<div class="t m_p1" style="left:417.90px;top:176.47px;font-size:20.30px;line-height:20.30px;color:#646467;letter-spacing:-0.200px;font-weight:400;transform:scaleX(0.960);transform-origin:0 0;">0<span style="display:inline-block;font-size:15px;letter-spacing:0;margin-left:1.2px;transform:scaleX(0.8);transform-origin:0 0">%</span></div>
<div class="t thin m_c1" style="left:524.60px;top:176.18px;font-size:21.70px;line-height:21.70px;color:#dcdcde;letter-spacing:0.000px;font-weight:400;transform:scaleX(0.968);transform-origin:0 0;">51.1<span class="deg">°C</span></div>
<div class="t thin" style="left:598.90px;top:176.47px;font-size:21.00px;line-height:21.00px;color:#dcdcde;letter-spacing:0.000px;font-weight:400;">/</div>
<div class="inp foc" style="top:164.15px"></div>
<div class="sel" style="top:174.20px"></div>
<div class="t m_t1" style="left:641.20px;top:176.02px;font-size:20.00px;line-height:20.00px;color:#f2f2f2;letter-spacing:-1.000px;font-weight:400;">50</div>
<div class="t m_u1" style="left:713.60px;top:176.02px;font-size:20.00px;line-height:20.00px;color:#2196f3;letter-spacing:0.800px;font-weight:400;transform:scaleX(0.870);transform-origin:0 0;">°C</div>
<div class="sep" style="top:210px"></div>
<svg class="ic" style="left:37.30px;top:225.95px" width="20.40" height="20.40" viewBox="0 0 24 24"><path fill="#2f9ff5" d="M17.66 11.2C17.43 10.9 17.15 10.64 16.89 10.38C16.22 9.78 15.46 9.35 14.82 8.72C13.33 7.26 13 4.85 13.95 3C13 3.23 12.17 3.75 11.46 4.32C8.87 6.4 7.85 10.07 9.07 13.22C9.11 13.32 9.15 13.42 9.15 13.55C9.15 13.77 9 13.97 8.8 14.05C8.57 14.15 8.33 14.09 8.14 13.93C8.08 13.88 8.04 13.83 8 13.76C6.87 12.33 6.69 10.28 7.45 8.64C5.78 10 4.87 12.3 5 14.47C5.06 14.97 5.12 15.47 5.29 15.97C5.43 16.57 5.7 17.17 6 17.7C7.08 19.43 8.95 20.67 10.96 20.92C13.1 21.19 15.39 20.8 17.03 19.32C18.86 17.66 19.5 15 18.56 12.72L18.43 12.46C18.22 12 17.66 11.2 17.66 11.2M14.5 17.5C14.22 17.74 13.76 18 13.4 18.1C12.28 18.5 11.16 17.94 10.5 17.28C11.69 17 12.4 16.12 12.61 15.23C12.78 14.43 12.46 13.77 12.33 13C12.21 12.26 12.23 11.63 12.5 10.94C12.69 11.32 12.89 11.7 13.13 12C13.9 13 15.11 13.44 15.37 14.8C15.41 14.94 15.43 15.08 15.43 15.23C15.46 16.05 15.1 16.95 14.5 17.5H14.5Z"/></svg>
<div class="t m_n2" style="left:67.40px;top:224.77px;font-size:20.00px;line-height:20.00px;color:#dadadc;letter-spacing:-0.050px;font-weight:400;transform:scaleX(0.950);transform-origin:0 0;">Heater Bed</div>
<div class="t m_p2" style="left:417.90px;top:225.89px;font-size:19.50px;line-height:19.50px;color:#646467;letter-spacing:1.300px;font-weight:400;">off</div>
<div class="t thin m_c2" style="left:524.60px;top:224.93px;font-size:21.70px;line-height:21.70px;color:#dcdcde;letter-spacing:0.000px;font-weight:400;transform:scaleX(0.968);transform-origin:0 0;">23.1<span class="deg">°C</span></div>
<div class="t thin" style="left:598.90px;top:225.22px;font-size:21.00px;line-height:21.00px;color:#dcdcde;letter-spacing:0.000px;font-weight:400;">/</div>
<div class="inp" style="top:213.70px"></div>
<div class="t m_t2" style="left:641.00px;top:224.77px;font-size:20.00px;line-height:20.00px;color:#e2e2e2;letter-spacing:-1.300px;font-weight:400;">0</div>
<div class="t m_u2" style="left:713.60px;top:224.77px;font-size:20.00px;line-height:20.00px;color:#e2e2e2;letter-spacing:0.800px;font-weight:400;transform:scaleX(0.870);transform-origin:0 0;">°C</div>
<div class="sep" style="top:259px"></div>
<svg class="ic" style="left:37.30px;top:274.70px" width="20.40" height="20.40" viewBox="0 0 24 24"><path fill="#40c860" d="M12,11A1,1 0 0,0 11,12A1,1 0 0,0 12,13A1,1 0 0,0 13,12A1,1 0 0,0 12,11M12.5,2C17,2 17.11,5.57 14.75,6.75C13.76,7.24 13.32,8.29 13.13,9.22C13.61,9.42 14.03,9.73 14.35,10.13C18.05,8.13 22.03,8.92 22.03,12.5C22.03,17 18.46,17.1 17.28,14.73C16.78,13.74 15.72,13.3 14.79,13.11C14.59,13.59 14.28,14 13.88,14.34C15.87,18.03 15.08,22 11.5,22C7,22 6.91,18.42 9.27,17.24C10.25,16.75 10.69,15.71 10.89,14.79C10.4,14.59 9.97,14.27 9.65,13.87C5.96,15.85 2,15.07 2,11.5C2,7 5.56,6.89 6.74,9.26C7.24,10.25 8.29,10.68 9.22,10.87C9.41,10.39 9.73,9.97 10.14,9.65C8.15,5.96 8.94,2 12.5,2Z"/></svg>
<div class="t m_n3" style="left:67.40px;top:273.52px;font-size:20.00px;line-height:20.00px;color:#dadadc;letter-spacing:0.050px;font-weight:400;transform:scaleX(0.950);transform-origin:0 0;">Board</div>
<div class="t m_p3" style="left:417.90px;top:273.97px;font-size:20.30px;line-height:20.30px;color:#646467;letter-spacing:-0.200px;font-weight:400;transform:scaleX(0.960);transform-origin:0 0;">40<span style="display:inline-block;font-size:15px;letter-spacing:0;margin-left:1.2px;transform:scaleX(0.8);transform-origin:0 0">%</span></div>
<div class="t thin m_c3" style="left:524.60px;top:273.68px;font-size:21.70px;line-height:21.70px;color:#dcdcde;letter-spacing:0.000px;font-weight:400;transform:scaleX(0.968);transform-origin:0 0;">45.0<span class="deg">°C</span></div>
<div class="t thin" style="left:598.90px;top:273.97px;font-size:21.00px;line-height:21.00px;color:#dcdcde;letter-spacing:0.000px;font-weight:400;">/</div>
<div class="inp" style="top:262.45px"></div>
<div class="t m_t3" style="left:641.00px;top:273.52px;font-size:20.00px;line-height:20.00px;color:#e2e2e2;letter-spacing:-1.300px;font-weight:400;">45</div>
<div class="t m_u3" style="left:713.60px;top:273.52px;font-size:20.00px;line-height:20.00px;color:#e2e2e2;letter-spacing:0.800px;font-weight:400;transform:scaleX(0.870);transform-origin:0 0;">°C</div>
<div class="sep" style="top:308px"></div>
<svg class="ic" style="left:37.30px;top:323.45px" width="20.40" height="20.40" viewBox="0 0 24 24"><path fill="#8e18e6" d="M15 13V5A3 3 0 0 0 9 5V13A5 5 0 1 0 15 13M12 4A1 1 0 0 1 13 5V12H11V5A1 1 0 0 1 12 4Z"/></svg>
<div class="t m_n4" style="left:67.40px;top:322.27px;font-size:20.00px;line-height:20.00px;color:#dadadc;letter-spacing:0.900px;font-weight:400;transform:scaleX(0.950);transform-origin:0 0;">Mcu</div>
<div class="t thin m_c4" style="left:524.60px;top:322.43px;font-size:21.70px;line-height:21.70px;color:#dcdcde;letter-spacing:0.000px;font-weight:400;transform:scaleX(0.968);transform-origin:0 0;">27.6<span class="deg">°C</span></div>
<div class="sep" style="top:356px"></div>
<svg class="ic" style="left:37.30px;top:372.20px" width="20.40" height="20.40" viewBox="0 0 24 24"><path fill="#e0780a" d="M15 13V5A3 3 0 0 0 9 5V13A5 5 0 1 0 15 13M12 4A1 1 0 0 1 13 5V12H11V5A1 1 0 0 1 12 4Z"/></svg>
<div class="t m_n5" style="left:67.40px;top:371.02px;font-size:20.00px;line-height:20.00px;color:#dadadc;letter-spacing:0.400px;font-weight:400;transform:scaleX(0.950);transform-origin:0 0;">Toolhead</div>
<div class="t thin m_c5" style="left:524.60px;top:371.18px;font-size:21.70px;line-height:21.70px;color:#dcdcde;letter-spacing:0.000px;font-weight:400;transform:scaleX(0.968);transform-origin:0 0;">23.7<span class="deg">°C</span></div>
<div class="sep" style="top:406px"></div>
<div class="t m_ct" style="left:74.00px;top:425.01px;font-size:17.00px;line-height:17.00px;color:#bbbbbd;letter-spacing:0.000px;font-weight:400;transform:scaleX(0.975);transform-origin:0 0;">Temperature °C</div>
<div class="t m_y0" style="left:0.00px;top:688.11px;font-size:17.00px;line-height:17.00px;color:#bbbbbd;letter-spacing:0.000px;font-weight:400;width:63.2px;text-align:right;">0</div>
<div class="t m_y20" style="left:0.00px;top:606.31px;font-size:17.00px;line-height:17.00px;color:#bbbbbd;letter-spacing:0.000px;font-weight:400;width:63.2px;text-align:right;">20</div>
<div class="t m_y40" style="left:0.00px;top:524.51px;font-size:17.00px;line-height:17.00px;color:#bbbbbd;letter-spacing:0.000px;font-weight:400;width:63.2px;text-align:right;">40</div>
<div class="t m_y60" style="left:0.00px;top:442.71px;font-size:17.00px;line-height:17.00px;color:#bbbbbd;letter-spacing:0.000px;font-weight:400;width:63.2px;text-align:right;">60</div>
<div class="t m_x0" style="left:87.35px;top:713.71px;font-size:17.00px;line-height:17.00px;color:#bbbbbd;letter-spacing:-0.100px;font-weight:400;width:60px;text-align:center;">16:44</div>
<div class="t m_x1" style="left:154.21px;top:713.71px;font-size:17.00px;line-height:17.00px;color:#bbbbbd;letter-spacing:-0.100px;font-weight:400;width:60px;text-align:center;">16:46</div>
<div class="t m_x2" style="left:221.07px;top:713.71px;font-size:17.00px;line-height:17.00px;color:#bbbbbd;letter-spacing:-0.100px;font-weight:400;width:60px;text-align:center;">16:48</div>
<div class="t m_x3" style="left:287.93px;top:713.71px;font-size:17.00px;line-height:17.00px;color:#bbbbbd;letter-spacing:-0.100px;font-weight:400;width:60px;text-align:center;">16:50</div>
<div class="t m_x4" style="left:354.79px;top:713.71px;font-size:17.00px;line-height:17.00px;color:#bbbbbd;letter-spacing:-0.100px;font-weight:400;width:60px;text-align:center;">16:52</div>
<div class="t m_x5" style="left:421.65px;top:713.71px;font-size:17.00px;line-height:17.00px;color:#bbbbbd;letter-spacing:-0.100px;font-weight:400;width:60px;text-align:center;">16:54</div>
<div class="t m_x6" style="left:488.51px;top:713.71px;font-size:17.00px;line-height:17.00px;color:#bbbbbd;letter-spacing:-0.100px;font-weight:400;width:60px;text-align:center;">16:56</div>
<div class="t m_x7" style="left:555.37px;top:713.71px;font-size:17.00px;line-height:17.00px;color:#bbbbbd;letter-spacing:-0.100px;font-weight:400;width:60px;text-align:center;">16:58</div>
<div class="t m_x8" style="left:622.23px;top:713.71px;font-size:17.00px;line-height:17.00px;color:#bbbbbd;letter-spacing:-0.100px;font-weight:400;width:60px;text-align:center;">17:00</div>
<div class="t m_x9" style="left:689.09px;top:713.71px;font-size:17.00px;line-height:17.00px;color:#bbbbbd;letter-spacing:-0.100px;font-weight:400;width:60px;text-align:center;">17:02</div>
</body></html>
